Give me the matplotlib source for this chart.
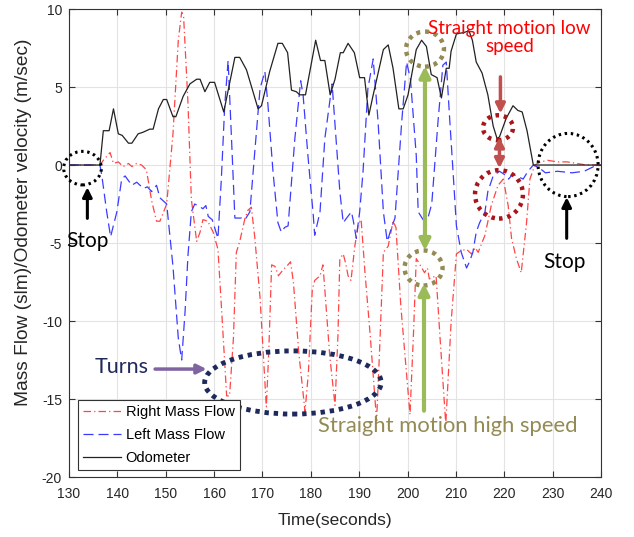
import numpy as np
import matplotlib
matplotlib.use("Agg")
import matplotlib.pyplot as plt
from matplotlib.patches import Ellipse

plt.rcParams['font.family'] = ['Liberation Sans', 'DejaVu Sans']
plt.rcParams['axes.unicode_minus'] = False

# odometer velocity (m/s)
odo_t = [130, 136.4, 137.1, 138.3, 139.2, 140.2, 141.0, 142.3, 143.0, 144.3, 145.3, 146.7, 147.4,
         148.5, 149.5, 150.2, 151.5, 152.1, 153.6, 155.0, 156.4, 157.1, 158.1, 159.1, 160.1, 162.0,
         164.3, 165.3, 166.7, 169.1, 169.8, 171.5, 173.2, 174.1, 175.2, 176.0, 177.0, 177.7, 178.9,
         181.0, 182.0, 182.9, 184.0, 185.0, 186.1, 186.7, 187.7, 189.0, 190.1, 191.1, 192.0, 192.9,
         195.0, 196.0, 197.0, 198.2, 199.1, 200.1, 201.8, 202.9, 203.9, 204.9, 206.1, 207.0, 208.0,
         208.6, 209.0, 210.1, 211.7, 212.7, 213.4, 214.2, 215.4, 216.6, 217.7, 218.5, 219.0, 220.4,
         221.8, 222.8, 223.7, 224.7, 226.0, 240]
odo_v = [0, 0, 2.2, 2.2, 3.6, 2.0, 1.9, 1.4, 1.4, 2.0, 2.1, 2.3, 2.3,
         3.6, 4.2, 4.2, 3.1, 3.1, 4.4, 5.2, 5.5, 5.5, 4.7, 5.3, 5.3, 3.4,
         6.9, 6.9, 6.1, 3.6, 3.8, 6.0, 7.8, 7.8, 7.2, 4.8, 4.7, 4.5, 4.5,
         8.0, 6.7, 6.7, 4.5, 5.5, 7.2, 7.2, 7.8, 7.2, 5.6, 5.6, 3.2, 4.5,
         7.4, 7.7, 6.2, 3.6, 3.6, 4.5, 7.4, 8.0, 7.6, 5.8, 5.6, 4.3, 6.2,
         6.2, 7.3, 8.4, 8.5, 8.6, 8.0, 6.6, 5.9, 4.5, 2.5, 1.7, 1.8, 3.0,
         3.8, 3.5, 3.4, 2.2, 0, 0]

# right mass flow (slm)
right_t = [130, 136.4, 137.1, 138.5, 139.2, 140.2, 141.2, 142.3, 143.0, 144.0, 145.0, 146.0, 147.1,
           148.1, 148.8, 150.2, 151.5, 152.6, 153.3, 153.7, 154.6, 155.3, 156.4, 157.1, 157.7, 158.7,
           159.8, 160.8, 161.5, 162.6, 163.2, 164.0, 164.6, 165.3, 166.4, 167.0, 167.7, 168.4, 169.5,
           170.8, 171.3, 171.9, 172.6, 173.3, 174.3, 175.0, 175.8, 176.4, 177.5, 178.8, 179.5, 180.3,
           180.8, 181.9, 182.5, 182.9, 183.9, 185.0, 185.6, 186.0, 186.7, 187.2, 187.7, 188.3, 189.1,
           189.8, 190.4, 191.2, 192.3, 193.6, 194.2, 195.0, 196.0, 197.0, 197.6, 198.6, 200.5, 201.2,
           201.8, 202.4, 203.5, 204.1, 204.5, 205.9, 206.7, 207.9, 209.0, 210.1, 211.0, 212.2, 213.2,
           214.0, 214.6, 216.0, 217.3, 218.7, 219.8, 220.8, 221.5, 222.5, 223.5, 224.6, 225.3, 226.3,
           227.5, 229.0, 231.0, 233.0, 235.0, 237.0, 240]
right_v = [0, 0, 0.3, 0.8, 0.1, 0.2, -0.1, 0.1, -0.1, 0.1, 0.0, -0.3, -2.3,
           -3.6, -3.6, -2.5, 2.0, 8.0, 9.8, 9.5, 4.0, -2.2, -4.9, -4.3, -3.5, -3.6,
           -4.3, -5.4, -9.0, -14.8, -14.8, -11.1, -5.6, -4.9, -3.4, -2.9, -2.7, -4.6, -8.5,
           -15.5, -12.0, -6.4, -6.5, -7.1, -6.7, -6.5, -6.2, -7.5, -12.0, -15.8, -13.3, -8.0,
           -7.4, -7.1, -6.4, -8.0, -12.2, -15.4, -11.0, -6.0, -5.7, -6.3, -7.1, -7.4, -5.2,
           -3.8, -3.5, -6.9, -11.0, -16.4, -12.0, -5.6, -5.2, -3.6, -4.0, -9.0, -16.0, -11.0,
           -6.0, -6.3, -6.9, -6.6, -7.3, -7.1, -11.0, -16.6, -10.1, -5.7, -5.5, -5.4, -5.7,
           -5.3, -5.6, -4.5, -2.6, -1.3, -0.9, -2.6, -4.7, -6.0, -6.9, -3.7, -0.9, 0.0,
           0.2, 0.3, 0.2, 0.2, 0.1, 0.0, 0]

# left mass flow (slm)
left_t = [130, 136.4, 136.8, 137.8, 138.6, 139.9, 140.9, 141.6, 142.3, 143.0, 144.0, 145.4, 146.2,
          147.1, 148.1, 148.8, 150.2, 151.5, 152.6, 153.3, 154.0, 154.6, 155.3, 156.0, 156.6, 157.7,
          158.3, 158.8, 159.6, 160.8, 161.5, 162.2, 162.9, 163.6, 164.3, 165.7, 166.4, 167.4, 168.4,
          169.5, 170.5, 171.1, 172.2, 173.2, 173.9, 174.6, 175.3, 176.7, 177.9, 178.4, 179.4, 180.5,
          180.8, 181.9, 182.9, 184.4, 185.3, 186.0, 186.7, 187.4, 188.4, 188.8, 189.4, 190.1, 190.8,
          191.8, 192.9, 193.9, 195.0, 195.8, 196.7, 197.4, 198.8, 199.8, 200.6, 201.8, 202.2, 203.2,
          204.2, 205.0, 206.3, 207.3, 208.0, 208.7, 209.4, 210.1, 211.1, 212.2, 212.8, 213.5, 214.2,
          214.9, 216.0, 216.6, 217.7, 219.0, 220.0, 220.9, 221.7, 222.5, 223.9, 224.9, 226.0, 227.3,
          228.5, 231.0, 234.0, 236.5, 238.5, 240]
left_v = [0, 0, -0.7, -3.0, -4.6, -3.0, -0.9, -0.7, -1.0, -1.3, -1.1, -1.5, -1.4,
          -1.7, -1.3, -2.1, -2.5, -6.5, -11.1, -12.5, -9.4, -5.8, -3.0, -2.5, -2.6, -2.8,
          -2.6, -3.3, -3.5, -4.7, -0.9, 3.8, 6.7, 1.7, -3.4, -3.4, -3.5, -3.0, 0.8,
          4.9, 6.0, 4.0, -0.5, -3.7, -4.3, -4.0, -3.9, 1.7, 5.4, 4.5, 0.6, -3.2,
          -4.5, -3.0, 1.7, 5.2, 1.3, -1.7, -3.7, -3.4, -3.0, -3.6, -4.7, -3.0, -0.4,
          4.9, 6.8, 2.8, -3.0, -4.9, -4.0, -3.4, 2.8, 6.6, 5.5, 0.6, -3.0, -3.5,
          -3.4, -2.5, 2.8, 6.4, 6.6, 3.0, -0.4, -3.9, -5.6, -6.6, -6.2, -5.6, -4.3,
          -3.7, -3.0, -1.7, -0.7, -0.4, -0.6, -0.9, -0.6, -0.7, -0.9, -0.4, 0.0, -0.2,
          -0.5, -0.4, -0.5, -0.4, -0.1, 0]

xticks = np.arange(130, 241, 10)
yticks = np.arange(-20, 11, 5)

fig = plt.figure(figsize=(6.34, 5.37), dpi=100)
ax = fig.add_axes([0.1088, 0.1117, 0.8392, 0.8715])

ax.plot(right_t, right_v, color='#ff4545', lw=0.9, linestyle=(0, (6, 2.5, 1, 2.5)), label='Right Mass Flow')
ax.plot(left_t, left_v, color='#3b3bff', lw=0.9, linestyle=(0, (8, 4)), label='Left Mass Flow')
ax.plot(odo_t, odo_v, color='#222222', lw=0.9, label='Odometer')

ax.set_xlim(130, 240)
ax.set_ylim(-20, 10)
ax.set_xticks(xticks)
ax.set_yticks(yticks)
ax.grid(True, color='#e3e3e3', lw=0.8)
ax.set_axisbelow(True)
ax.tick_params(direction='in', top=True, right=True, length=4, labelsize=10, color='#333333',
               labelcolor='#262626')
ax.tick_params(axis='x', pad=7)
ax.tick_params(axis='y', pad=5)
for s in ax.spines.values():
    s.set_color('#333333')
    s.set_linewidth(0.8)
ax.set_xlabel('Time(seconds)', fontsize=12.5, color='#262626', labelpad=9)
ax.set_ylabel('Mass Flow (slm)/Odometer velocity (m/sec)', fontsize=13.8, color='#262626')
ax.yaxis.set_label_coords(-0.07, 0.545)

leg = ax.legend(loc='lower left', bbox_to_anchor=(0.0175, 0.015), borderaxespad=0, fancybox=False,
                edgecolor='#333333', framealpha=1, fontsize=10.5, handlelength=2.6, handletextpad=0.3,
                labelspacing=0.62, borderpad=0.35)
leg.get_frame().set_linewidth(0.8)

# annotations
note = ['Lato', 'DejaVu Sans']
navy = '#1f2a5c'
olive = '#948a54'
green = '#9bbb59'
dred = '#a8151b'
arrow_red = '#c0504d'

def ring(xy, w, h, color, lw, ls):
    e = Ellipse(xy, w, h, fill=False, edgecolor=color, lw=lw, linestyle=ls, clip_on=False, zorder=5)
    ax.add_patch(e)

def arrow(x0, y0, x1, y1, color, lw, style='-|>', ms=14):
    ax.annotate('', xy=(x1, y1), xytext=(x0, y0), annotation_clip=False, zorder=6,
                arrowprops=dict(arrowstyle=style, color=color, lw=lw, mutation_scale=ms,
                                shrinkA=0, shrinkB=0))

ring((132.8, -0.2), 7.8, 2.15, 'black', 2.2, (0, (0.8, 1.2)))
ring((233.2, 0.0), 12.4, 4.05, 'black', 2.2, (0, (0.8, 1.2)))
ring((176.3, -13.94), 36.5, 4.05, navy, 3.5, (0, (0.9, 1.0)))
ring((203.6, 7.43), 7.85, 2.25, olive, 3.2, (0, (0.9, 1.1)))
ring((203.3, -6.6), 7.85, 2.25, olive, 3.2, (0, (0.9, 1.1)))
ring((218.7, 2.39), 6.2, 1.6, dred, 3.2, (0, (0.8, 1.1)))
ring((218.9, -1.88), 9.9, 3.1, dred, 3.2, (0, (0.8, 1.1)))

arrow(133.8, -3.42, 133.8, -1.43, 'black', 2.2)
arrow(232.9, -4.7, 232.9, -2.07, 'black', 2.2)
arrow(147.8, -13.08, 158.45, -13.08, '#8064a2', 2.5)
arrow(203.6, 6.34, 203.6, -5.48, green, 3, style='<|-|>', ms=16)
arrow(203.4, -15.75, 203.4, -7.6, green, 3, ms=16)
arrow(219.2, 5.65, 219.2, 3.3, arrow_red, 2.5)
arrow(219.0, 1.78, 219.0, -0.21, arrow_red, 2.5, style='<|-|>')

ax.text(133.8, -4.85, 'Stop', family=note, fontsize=15, ha='center', va='center', color='black', zorder=7)
ax.text(232.5, -6.2, 'Stop', family=note, fontsize=15, ha='center', va='center', color='black', zorder=7)
ax.text(140.9, -12.95, 'Turns', family=note, fontsize=15.5, ha='center', va='center', color=navy, zorder=7)
ax.text(208.4, -16.7, 'Straight motion high speed', family=note, fontsize=15.8, ha='center', va='center',
        color=olive, zorder=7)
ax.text(221.1, 8.17, 'Straight motion low\nspeed', family=note, fontsize=13.5, ha='center', va='center',
        color='#ff0000', linespacing=1.05, zorder=7)

fig.savefig('out.png', dpi=100)
